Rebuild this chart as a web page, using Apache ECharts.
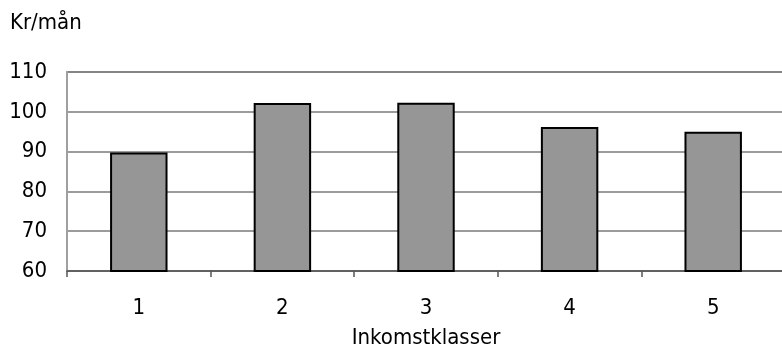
<!DOCTYPE html>
<html>
<head>
<meta charset="utf-8">
<script src="https://cdn.jsdelivr.net/npm/echarts@6/dist/echarts.min.js"></script>
<style>
  html, body { margin: 0; padding: 0; background: #fff; }
  #chart { width: 782px; height: 351px; }
</style>
</head>
<body>
<div id="chart"></div>
<script>
// Monthly amount per income class
const categories = ['1', '2', '3', '4', '5'];
const values = [89.8, 102.2, 102.3, 96.2, 95.0];
const yTicks = { min: 60, max: 110, interval: 10 };
const yUnit = 'Kr/mån';
const xName = 'Inkomstklasser';

const FONT = '"DejaVu Sans Condensed", "Liberation Sans Narrow", sans-serif';

const chart = echarts.init(document.getElementById('chart'), null, { renderer: 'canvas' });
chart.setOption({
  animation: false,
  backgroundColor: '#ffffff',
  textStyle: { fontFamily: FONT },
  graphic: [{
    type: 'text',
    left: 10,
    top: 12,
    style: { text: yUnit, font: '22px ' + FONT, fill: '#000' }
  }],
  grid: {
    left: 67, right: -3, top: 72, bottom: 80,
    outerBoundsMode: 'none',
    show: true, borderColor: '#a8a8a8', borderWidth: 2,
    containLabel: false
  },
  xAxis: {
    type: 'category',
    data: categories,
    name: xName,
    nameLocation: 'middle',
    nameGap: 56,
    nameTextStyle: { fontSize: 22, color: '#000', fontFamily: FONT },
    axisLine: { show: true, lineStyle: { color: '#555', width: 1.5 } },
    axisTick: { show: true, length: 6, alignWithLabel: false, lineStyle: { color: '#555', width: 1.5 } },
    axisLabel: { fontSize: 22, color: '#000', margin: 26, fontFamily: FONT },
    splitLine: { show: false }
  },
  yAxis: {
    type: 'value',
    min: yTicks.min, max: yTicks.max, interval: yTicks.interval,
    axisLine: { show: true, lineStyle: { color: '#a0a0a0', width: 2 } },
    axisTick: { show: false },
    axisLabel: { fontSize: 22, color: '#000', margin: 20, fontFamily: FONT },
    splitLine: { show: true, lineStyle: { color: '#7a7a7a', width: 1.5 } }
  },
  series: [{
    type: 'bar',
    data: values,
    barWidth: '40%',
    itemStyle: { color: '#969696', borderColor: '#000', borderWidth: 2 }
  }]
});
</script>
</body>
</html>
